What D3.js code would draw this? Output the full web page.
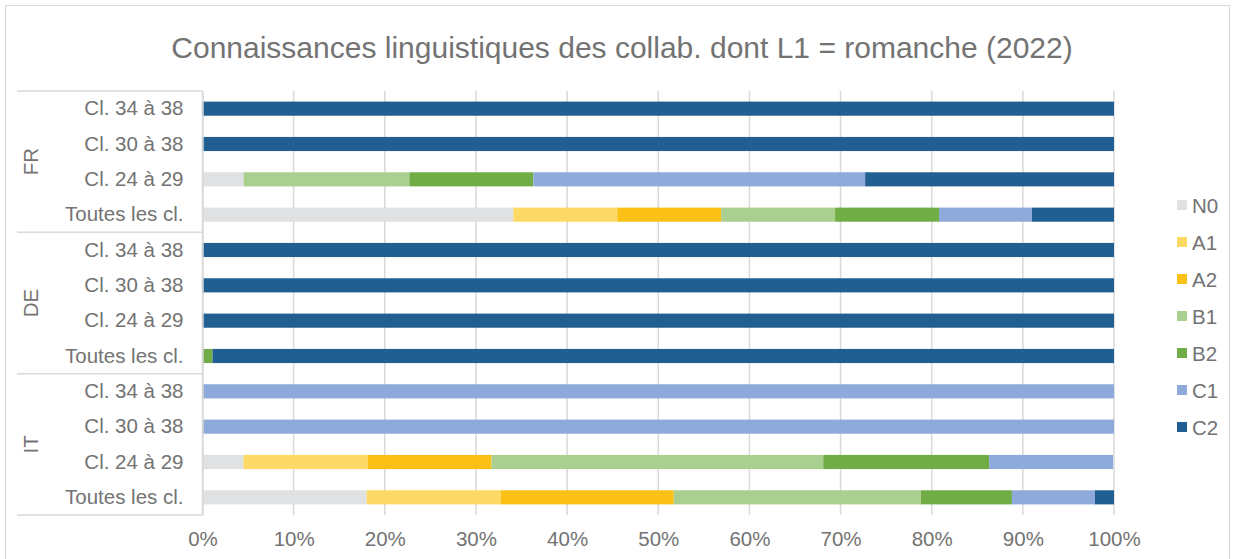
<!DOCTYPE html>
<html><head><meta charset="utf-8">
<script src="https://cdn.jsdelivr.net/npm/d3@7"></script>
<style>body{margin:0;background:#fff;font-family:"Liberation Sans",Arial,sans-serif;}</style>
</head><body><svg id="c" width="1235" height="559"></svg>
<script>
const groups = ["FR","DE","IT"];
const subcats = ["Cl. 34 à 38","Cl. 30 à 38","Cl. 24 à 29","Toutes les cl."];
const levels = ["N0","A1","A2","B1","B2","C1","C2"];
const colors = ["#e0e1e3","#fdd966","#fbc016","#a9d08e","#70ad47","#8eaadb","#215f93"];
// values per row (%), rows in order FR..., DE..., IT...
const FR_34 = [0,0,0,0,0,0,100];
const FR_30 = [0,0,0,0,0,0,100];
const FR_24 = [4.5,0,0,18.2,13.6,36.4,27.3];
const FR_all = [34.1,11.4,11.4,12.5,11.4,10.2,9.0];
const DE_34 = [0,0,0,0,0,0,100];
const DE_30 = [0,0,0,0,0,0,100];
const DE_24 = [0,0,0,0,0,0,100];
const DE_all = [0,0,0,0,1.1,0,98.9];
const IT_34 = [0,0,0,0,0,100,0];
const IT_30 = [0,0,0,0,0,100,0];
const IT_24 = [4.5,13.6,13.6,36.4,18.2,13.6,0];
const IT_all = [18.0,14.7,19.0,27.1,10.0,9.1,2.1];
const xTicks = [0,10,20,30,40,50,60,70,80,90,100];

const rowsData = [
  ["FR",subcats[0],FR_34],["FR",subcats[1],FR_30],["FR",subcats[2],FR_24],["FR",subcats[3],FR_all],
  ["DE",subcats[0],DE_34],["DE",subcats[1],DE_30],["DE",subcats[2],DE_24],["DE",subcats[3],DE_all],
  ["IT",subcats[0],IT_34],["IT",subcats[1],IT_30],["IT",subcats[2],IT_24],["IT",subcats[3],IT_all]
].map((r,i)=>({g:r[0],c:r[1],v:r[2],id:i}));

const svg = d3.select("#c");
const txt = "#737373", grid = "#d9d9d9";
const FONT = "Liberation Sans, Arial, sans-serif";
svg.append("rect").attr("x",5.5).attr("y",5.5).attr("width",1224).attr("height",560)
  .attr("fill","#fff").attr("stroke",grid);

svg.append("text").attr("x",622).attr("y",58).attr("text-anchor","middle")
  .attr("font-size",30).attr("fill",txt)
  .text("Connaissances linguistiques des collab. dont L1 = romanche (2022)");

const x = d3.scaleLinear().domain([0,100]).range([202.5,1114]);
const y = d3.scaleBand().domain(rowsData.map(d=>d.id)).range([91,515]).paddingInner(0.6).paddingOuter(0.3);

// gridlines
svg.append("g").selectAll("line").data(xTicks).join("line")
  .attr("x1",d=>x(d)).attr("x2",d=>x(d)).attr("y1",91).attr("y2",515)
  .attr("stroke",grid).attr("stroke-width",1.5);

// bars
const stack = rowsData.map(r=>{let acc=0;return r.v.map((v,k)=>{const s={id:r.id,k,x0:acc,x1:acc+v};acc+=v;return s;});}).flat().filter(s=>s.x1>s.x0);
svg.append("g").selectAll("rect").data(stack).join("rect")
  .attr("x",d=>x(d.x0)).attr("width",d=>x(d.x1)-x(d.x0))
  .attr("y",d=>y(d.id)).attr("height",y.bandwidth())
  .attr("fill",d=>colors[d.k]);

// x axis labels
const xa = svg.append("g").attr("transform","translate(0,515)")
  .call(d3.axisBottom(x).tickValues(xTicks).tickFormat(d=>d+"%").tickSize(0).tickPadding(16));
xa.select(".domain").remove();
xa.selectAll("text").attr("font-size",20.5).attr("fill",txt).attr("font-family",FONT);

// category axis
const ya = svg.append("g").attr("transform","translate(202.5,0)")
  .call(d3.axisLeft(y).tickFormat(i=>rowsData[i].c).tickSize(0).tickPadding(19));
ya.select(".domain").attr("stroke",grid).attr("stroke-width",1.5);
ya.selectAll("text").attr("font-size",20.5).attr("fill",txt).attr("font-family",FONT);

// group separators
const gTop = i => 91 + i*4*(424/12);
svg.append("g").selectAll("line").data([0,1,2,3]).join("line")
  .attr("x1",17).attr("x2",202.5).attr("y1",d=>gTop(d)).attr("y2",d=>gTop(d))
  .attr("stroke",grid).attr("stroke-width",1.5);
svg.append("g").selectAll("text").data(groups).join("text")
  .attr("transform",(d,i)=>`translate(38,${gTop(i)+2*(424/12)}) rotate(-90)`)
  .attr("text-anchor","middle").attr("font-size",20.5).attr("fill",txt).text(d=>d);

// legend
const lg = svg.append("g").selectAll("g").data(levels).join("g")
  .attr("transform",(d,i)=>`translate(1177,${205+i*37})`);
lg.append("rect").attr("x",0).attr("y",-5).attr("width",10).attr("height",10).attr("fill",(d,i)=>colors[i]);
lg.append("text").attr("x",15).attr("y",7.5).attr("font-size",20.5).attr("fill",txt).text(d=>d);
</script></body></html>
